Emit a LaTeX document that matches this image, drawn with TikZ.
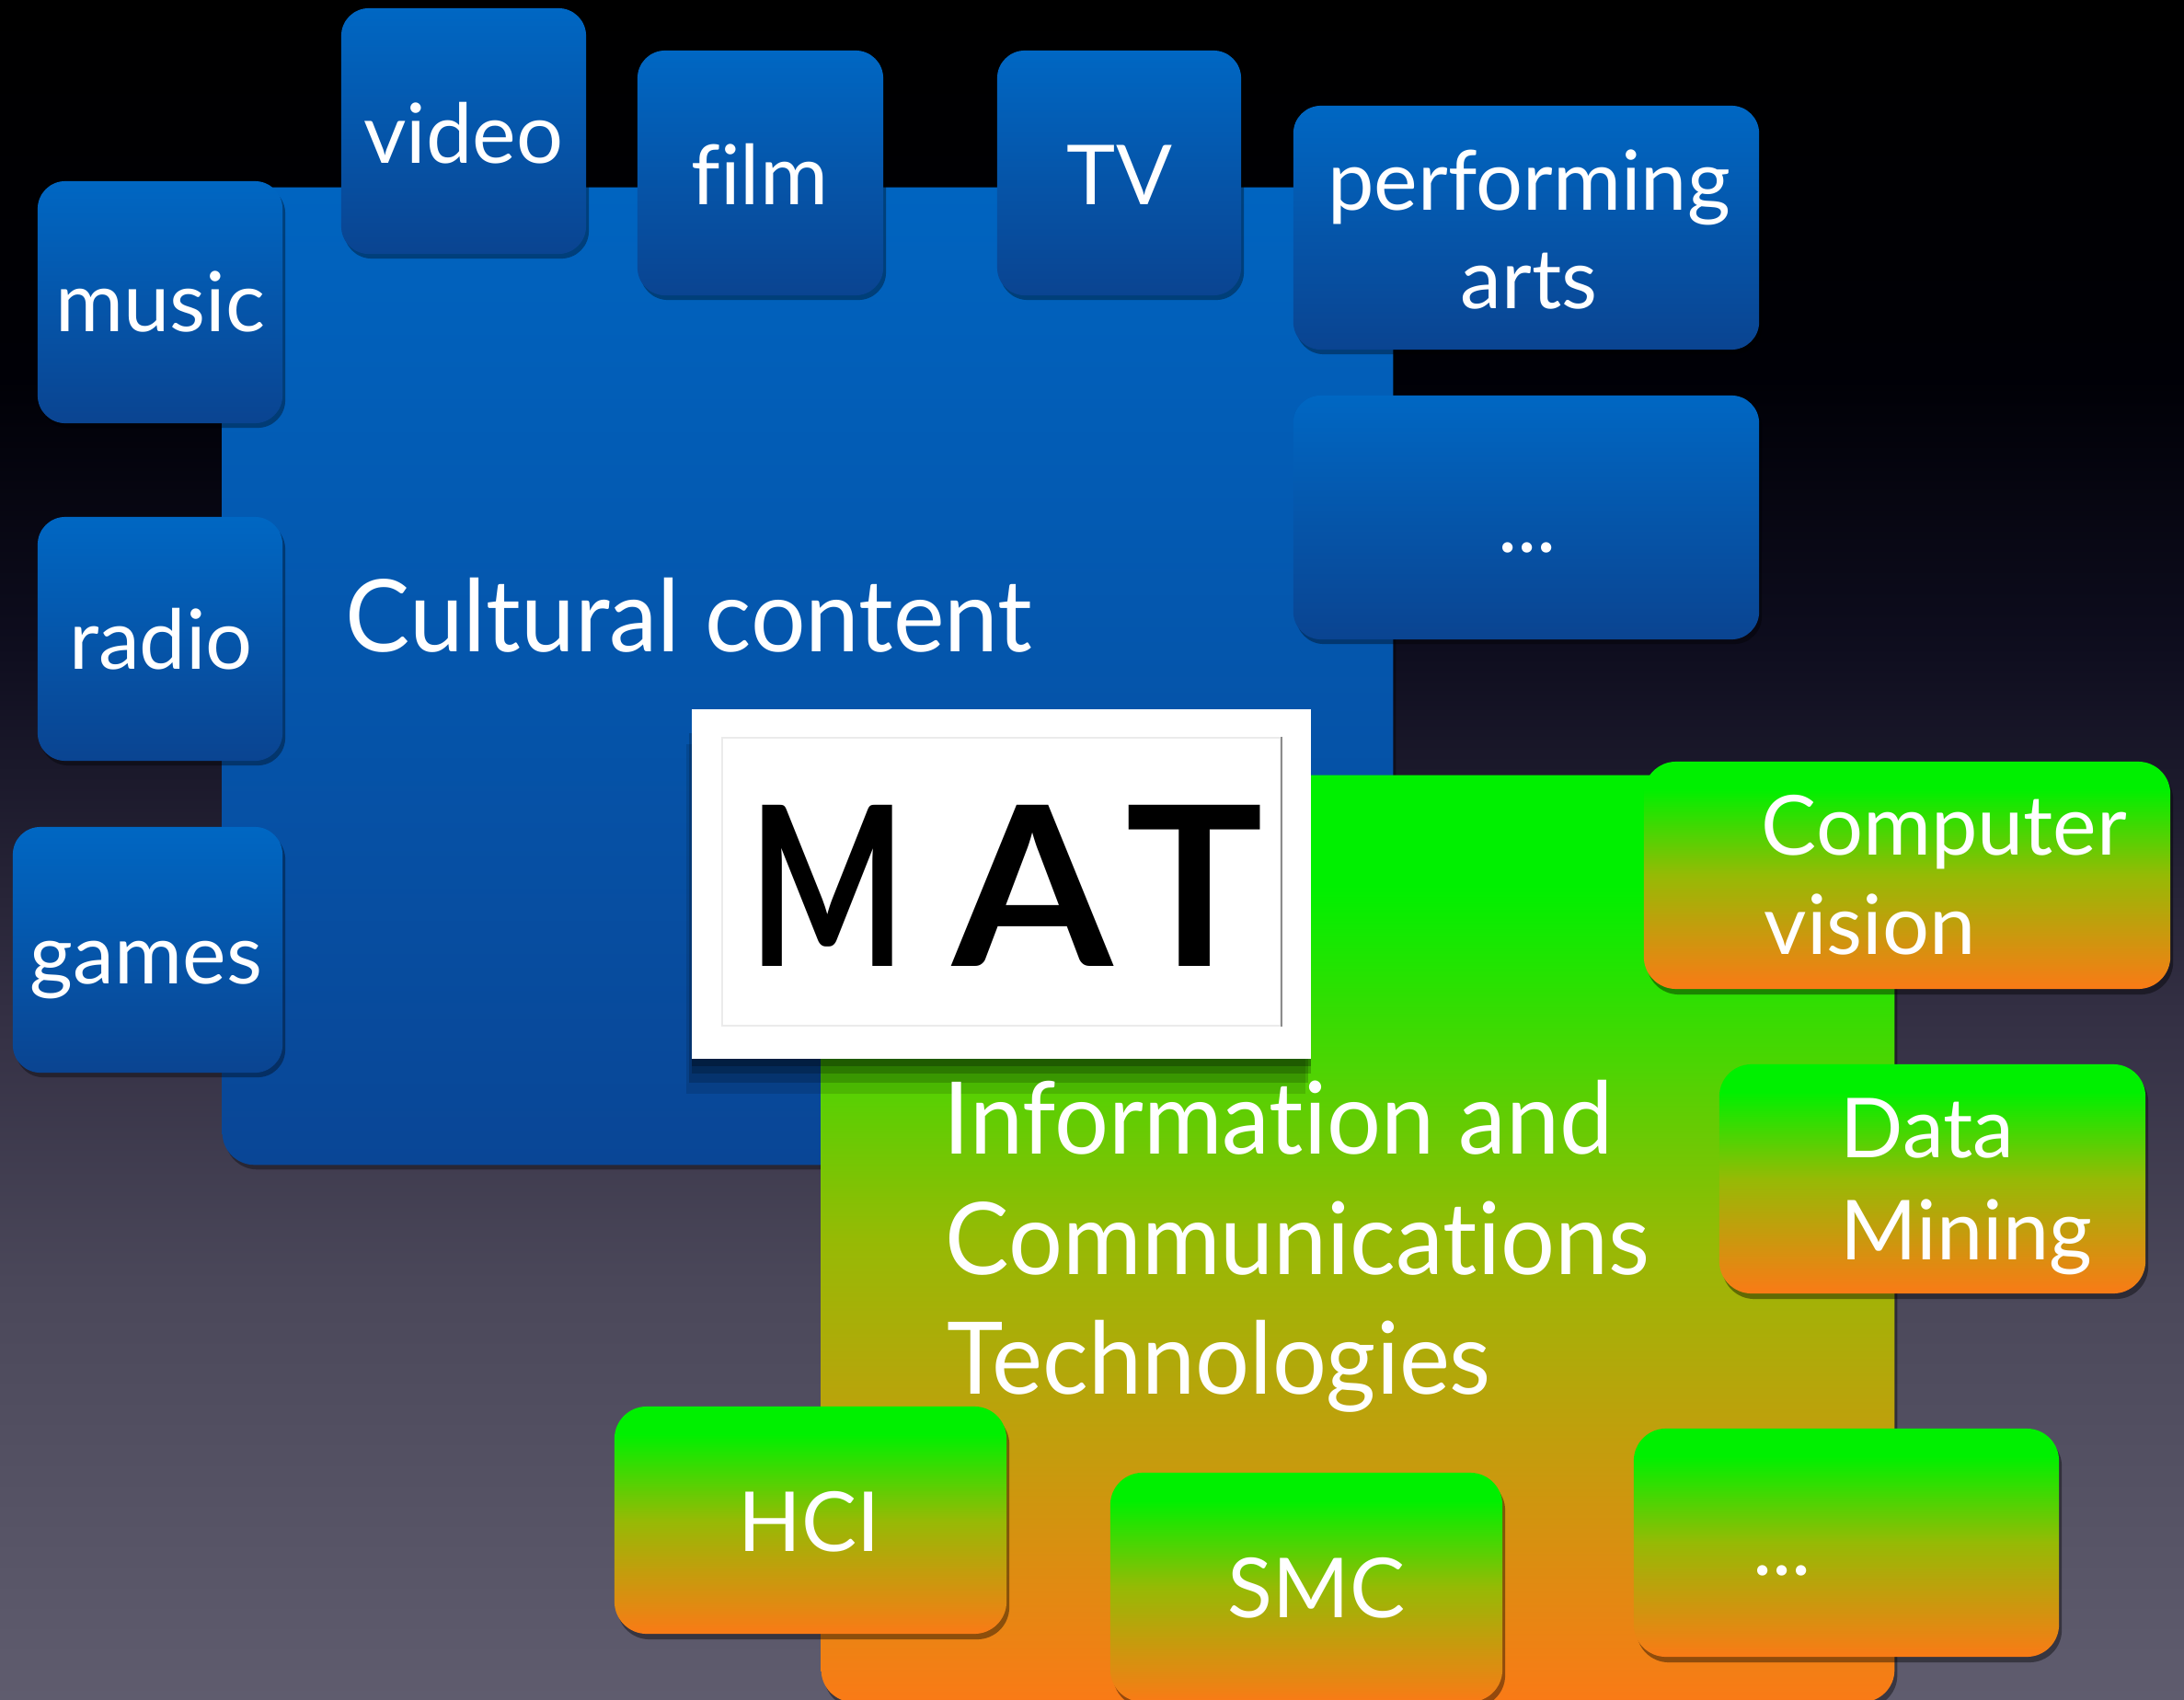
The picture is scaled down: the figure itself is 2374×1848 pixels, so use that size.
\documentclass[tikz,border=0pt]{standalone}
\usepackage{fontspec}
\setmainfont{Lato}[Ligatures=NoCommon]
\usetikzlibrary{shadows}
\definecolor{bgA}{RGB}{95,92,110}
\definecolor{bgB}{RGB}{75,72,90}
\definecolor{bgC}{RGB}{52,48,68}
\definecolor{bgD}{RGB}{14,13,30}
\definecolor{bgE}{RGB}{0,0,6}
\definecolor{bluetop}{RGB}{0,103,195}
\definecolor{bluebot}{RGB}{10,68,145}
\definecolor{bigbluetop}{RGB}{0,100,192}
\definecolor{bigbluebot}{RGB}{9,70,150}
\definecolor{gtop}{RGB}{0,240,0}
\definecolor{gmid}{RGB}{150,186,5}
\definecolor{gbot}{RGB}{250,122,22}
\pgfdeclareverticalshading{bgshade}{100bp}{color(0bp)=(bgA); color(25bp)=(bgA); color(37bp)=(bgB); color(45bp)=(bgC); color(56bp)=(bgD); color(64bp)=(bgE); color(75bp)=(black); color(100bp)=(black)}
\pgfdeclareverticalshading{gshade}{100bp}{color(0bp)=(gbot); color(25bp)=(gbot); color(50bp)=(gmid); color(69bp)=(gtop); color(75bp)=(gtop); color(100bp)=(gtop)}
\tikzset{
  bluebox/.style={rounded corners=0.3cm, top color=bluetop, bottom color=bluebot, draw=none, inner sep=0,
    drop shadow={shadow xshift=0.03cm, shadow yshift=-0.05cm, opacity=0.35, fill=black}},
  bigblue/.style={rounded corners=0.35cm, top color=bigbluetop, bottom color=bigbluebot, draw=none, inner sep=0,
    drop shadow={shadow xshift=0.03cm, shadow yshift=-0.05cm, opacity=0.35, fill=black}},
  greenbox/.style={rounded corners=0.35cm, shading=gshade, draw=none, inner sep=0,
    drop shadow={shadow xshift=0.03cm, shadow yshift=-0.06cm, opacity=0.4, fill=black}},
  lbl/.style={text=white, inner sep=0, font=\fontsize{25.6}{30}\selectfont},
  biglbl/.style={text=white, inner sep=0, font=\fontsize{31}{37}\selectfont},
  matletter/.style={text=black, inner sep=0, anchor=base, font=\bfseries},
  matbox/.style={fill=white, draw=none, inner sep=0,
    drop shadow={shadow xshift=0cm, shadow yshift=-0.08cm, opacity=0.25, fill=black},
    drop shadow={shadow xshift=0cm, shadow yshift=-0.16cm, opacity=0.2, fill=black},
    drop shadow={shadow xshift=-0.03cm, shadow yshift=-0.26cm, opacity=0.18, fill=black},
    drop shadow={shadow xshift=-0.06cm, shadow yshift=-0.38cm, opacity=0.12, fill=black}},
}
\begin{document}
\begin{tikzpicture}[x=0.01cm, y=-0.01cm]
\useasboundingbox (0,0) rectangle (2374,1848);
\shade[shading=bgshade] (0,0) rectangle (2374,1848);

% big blue area
\node[bigblue, minimum width=12.72cm, minimum height=10.62cm] (cc) at (878,735) {};

% blue tiles
\node[bluebox, minimum width=2.66cm, minimum height=2.63cm] (bmusic) at (174,328.5) {};
\node[bluebox, minimum width=2.66cm, minimum height=2.67cm] (bvideo) at (504,142.5) {};
\node[bluebox, minimum width=2.67cm, minimum height=2.66cm] (bfilm) at (826.5,188) {};
\node[bluebox, minimum width=2.65cm, minimum height=2.66cm] (btv) at (1216.5,188) {};
\node[bluebox, minimum width=5.06cm, minimum height=2.65cm] (bperf) at (1659,247.5) {};
\node[bluebox, minimum width=5.06cm, minimum height=2.65cm] (bdots) at (1659,562.5) {};
\node[bluebox, minimum width=2.66cm, minimum height=2.65cm] (bradio) at (174,694.5) {};
\node[bluebox, minimum width=2.93cm, minimum height=2.67cm] (bgames) at (160.5,1032.5) {};

% big green area
\node[greenbox, minimum width=11.66cm, minimum height=10.07cm] (ict) at (1476,1346.5) {};

% green tiles
\node[greenbox, minimum width=5.72cm, minimum height=2.47cm] (gcv) at (2073,951.5) {};
\node[greenbox, minimum width=4.63cm, minimum height=2.49cm] (gdm) at (2100.5,1281.5) {};
\node[greenbox, minimum width=4.26cm, minimum height=2.47cm] (ghci) at (881,1652.5) {};
\node[greenbox, minimum width=4.26cm, minimum height=2.49cm] (gsmc) at (1420,1725.5) {};
\node[greenbox, minimum width=4.62cm, minimum height=2.48cm] (gdots) at (2007,1677) {};

% MAT logo
\node[matbox, minimum width=6.73cm, minimum height=3.80cm] (mat) at (1088.5,961) {};
\node[draw=black!8, line width=0.02cm, minimum width=6.07cm, minimum height=3.13cm, inner sep=0] (matframe) at (1088.5,958.5) {};
\draw[black!45, line width=0.02cm] (matframe.north east) -- (matframe.south east);
\node[matletter] (mM) at (900,1050) {\resizebox{1.70cm}{1.75cm}{M}};
\node[matletter] (mA) at (1123,1050) {\resizebox{1.74cm}{1.75cm}{A}};
\node[matletter] (mT) at (1299,1050) {\resizebox{1.50cm}{1.75cm}{T}};

% labels blue
\node[lbl, anchor=base] (tmusic) at (174,360) {music};
\node[lbl, anchor=base] (tvideo) at (504,177) {video};
\node[lbl, anchor=base] (tfilm) at (826,222) {film};
\node[lbl, anchor=base] (ttv) at (1217,222) {TV};
\node[lbl, anchor=base] (tperf1) at (1662,228) {performing};
\node[lbl, anchor=base] (tperf2) at (1662,335) {arts};
\node[lbl, anchor=base] (tbdots) at (1660,600) {...};
\node[lbl, anchor=base] (tradio) at (175,727) {radio};
\node[lbl, anchor=base] (tgames) at (159,1069) {games};
\node[biglbl, anchor=base west] (tcc) at (375,708) {\scalebox{0.965}[1]{Cultural content}};

% labels green
\node[biglbl, anchor=base west] (tict1) at (1025,1254) {\scalebox{0.955}[1]{Information and}};
\node[biglbl, anchor=base west] (tict2) at (1027,1385) {\scalebox{0.955}[1]{Communications}};
\node[biglbl, anchor=base west] (tict3) at (1029,1515) {\scalebox{0.955}[1]{Technologies}};
\node[lbl, anchor=base west] (tcv1) at (1914,929) {Computer};
\node[lbl, anchor=base west] (tcv2) at (1917,1037) {vision};
\node[lbl, anchor=base west] (tdm1) at (2000,1258) {Data};
\node[lbl, anchor=base west] (tdm2) at (2000,1369) {Mining};
\node[lbl, anchor=base] (thci) at (880,1686) {HCI};
\node[lbl, anchor=base] (tsmc) at (1431,1758) {SMC};
\node[lbl, anchor=base] (tgdots) at (1937,1712) {...};
\end{tikzpicture}
\end{document}
